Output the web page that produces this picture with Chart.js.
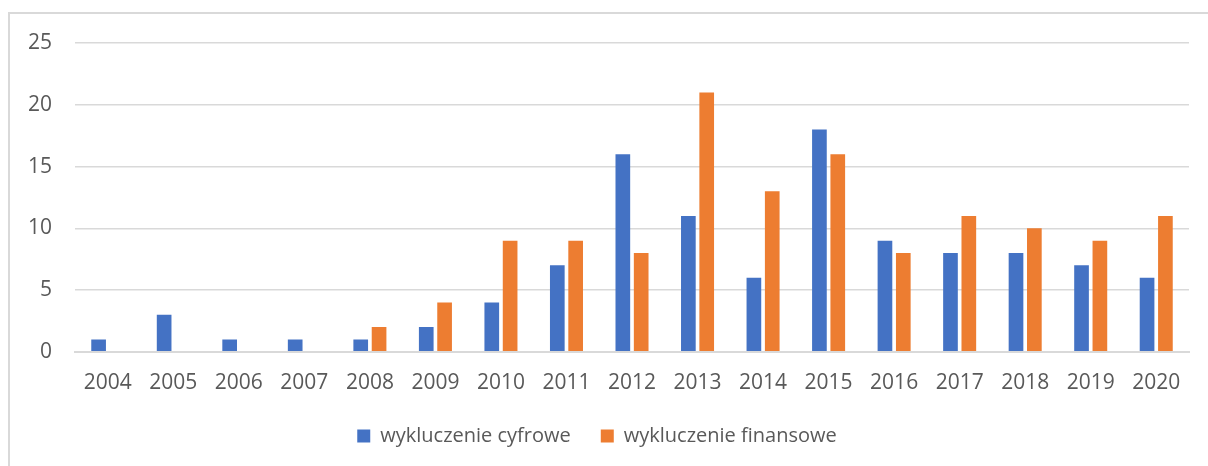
<!DOCTYPE html>
<html>
<head>
<meta charset="utf-8">
<script src="https://cdn.jsdelivr.net/npm/chart.js@4/dist/chart.umd.min.js"></script>
<style>
  html, body { margin: 0; padding: 0; background: #ffffff; }
  #wrap { position: relative; width: 1208px; height: 466px; }
</style>
</head>
<body>
<div id="wrap"><canvas id="c" width="1208" height="466"></canvas></div>
<script>
const categories = ['2004','2005','2006','2007','2008','2009','2010','2011','2012','2013','2014','2015','2016','2017','2018','2019','2020'];
const cyfrowe   = [1, 3, 1, 1, 1, 2, 4, 7, 16, 11, 6, 18, 9, 8, 8, 7, 6];
const finansowe = [null, null, null, null, 2, 4, 9, 9, 8, 21, 13, 16, 8, 11, 10, 9, 11];
const seriesNames = ['wykluczenie cyfrowe', 'wykluczenie finansowe'];
const yTicks = [0, 5, 10, 15, 20, 25];

const FONT = '"Open Sans", Lato, "Liberation Sans", sans-serif';
const TEXT = '#595959';
const GRID = '#d9d9d9';

const frame = {
  id: 'frame',
  beforeDraw(chart) {
    const ctx = chart.ctx;
    ctx.save();
    ctx.fillStyle = '#ffffff';
    ctx.fillRect(0, 0, chart.width, chart.height);
    ctx.strokeStyle = GRID;
    ctx.lineWidth = 2;
    ctx.beginPath();
    ctx.moveTo(9, chart.height);
    ctx.lineTo(9, 13);
    ctx.lineTo(chart.width, 13);
    ctx.stroke();
    ctx.restore();
  }
};

new Chart(document.getElementById('c'), {
  type: 'bar',
  data: {
    labels: categories,
    datasets: [
      { label: seriesNames[0], data: cyfrowe, backgroundColor: '#4472C4', borderColor: '#4472C4', borderWidth: 0 },
      { label: seriesNames[1], data: finansowe, backgroundColor: '#ED7D31', borderColor: '#ED7D31', borderWidth: 0 }
    ]
  },
  options: {
    responsive: false,
    animation: false,
    devicePixelRatio: 1,
    layout: { padding: { top: 43, left: 5, right: 19, bottom: 10 } },
    datasets: { bar: { categoryPercentage: 0.56, barPercentage: 0.8 } },
    scales: {
      x: {
        grid: { display: false, drawTicks: false },
        border: { display: true, color: GRID, width: 2 },
        ticks: { color: TEXT, font: { family: FONT, size: 21 }, padding: 19, maxRotation: 0 },
        afterFit(axis) { axis.height -= 19; }
      },
      y: {
        min: 0, max: 25,
        afterBuildTicks(axis) { axis.ticks = yTicks.map(v => ({ value: v })); },
        grid: { color: GRID, lineWidth: 1.5, drawTicks: false },
        border: { display: false },
        ticks: { color: TEXT, font: { family: FONT, size: 21 }, padding: 23 }
      }
    },
    plugins: {
      legend: {
        position: 'bottom',
        labels: { color: TEXT, font: { family: FONT, size: 20 }, boxWidth: 13, boxHeight: 13, padding: 30 }
      },
      tooltip: { enabled: false }
    }
  },
  plugins: [frame]
});
</script>
</body>
</html>
